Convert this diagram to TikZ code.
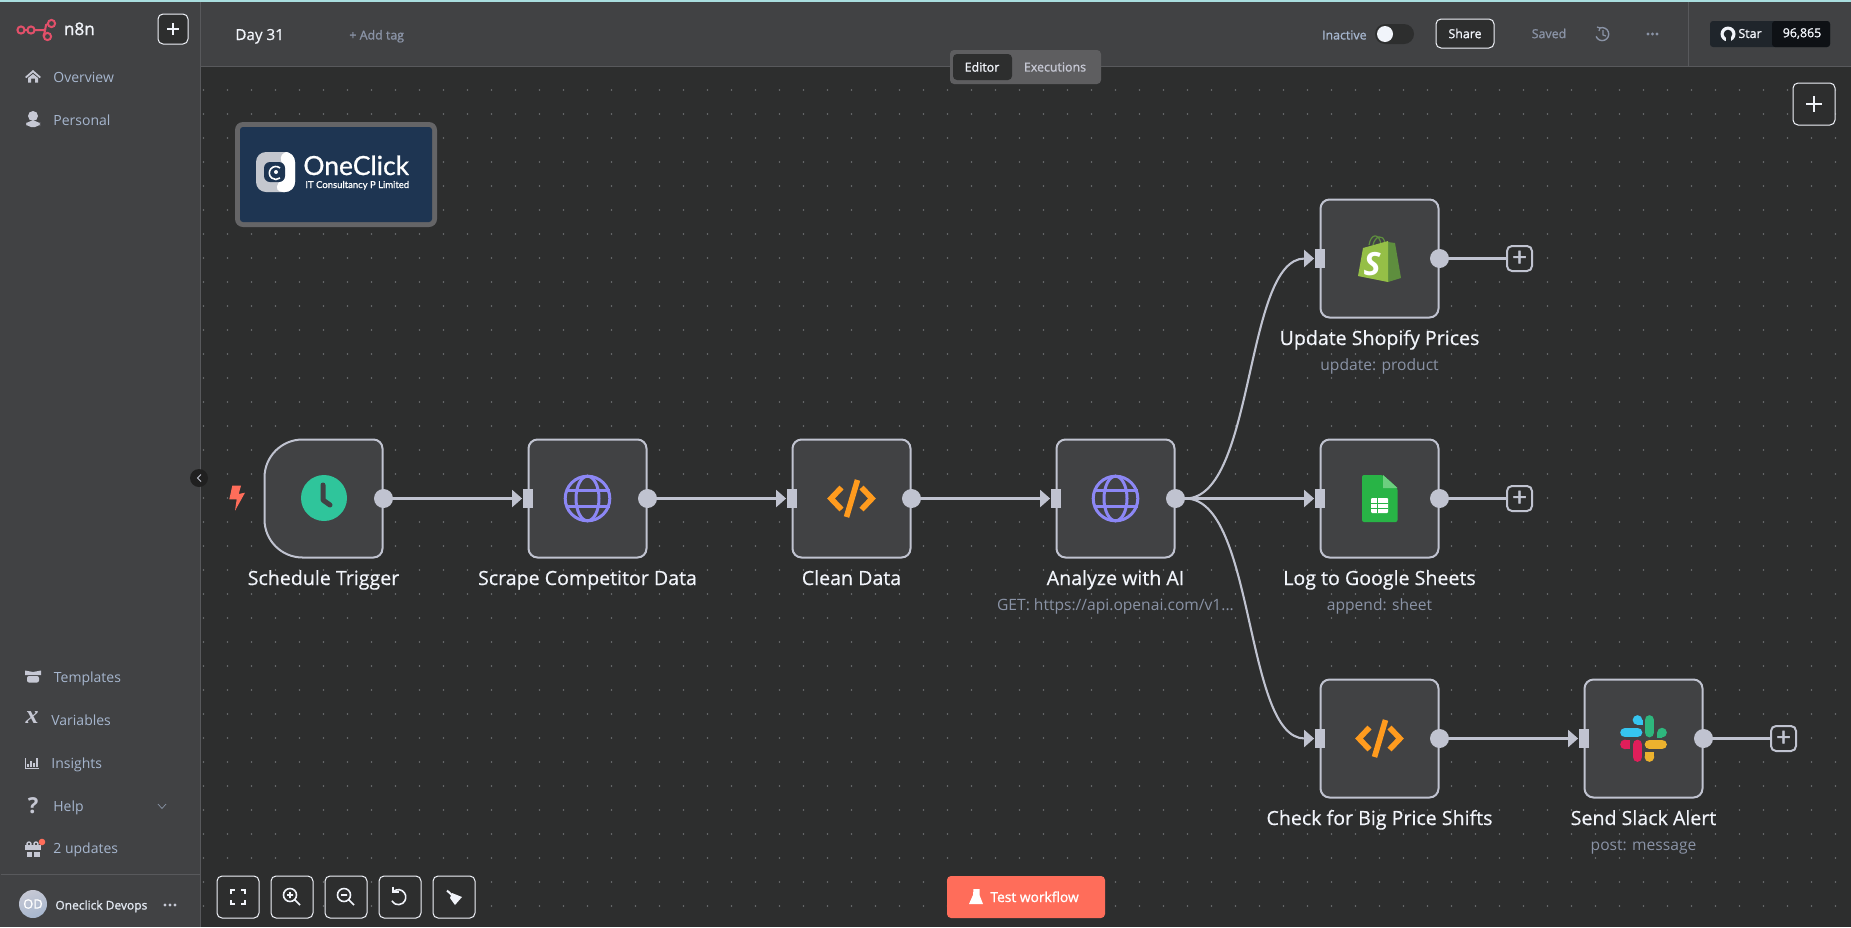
\documentclass[tikz,border=0pt]{standalone}
\usepackage{fontspec}
\setmainfont{Open Sans}
\newfontfamily\logofont[FakeBold=0.8]{Lato}
\newfontfamily\iconserif{Liberation Serif}
\newfontfamily\semifont[FakeBold=1.2]{Open Sans}
\newfontfamily\medfont[FakeBold=0.5]{Open Sans}
\usetikzlibrary{arrows.meta}
\definecolor{canvasbg}{HTML}{2D2E2E}
\definecolor{panelbg}{HTML}{414244}
\definecolor{panelline}{HTML}{58595C}
\definecolor{griddot}{HTML}{6E7073}
\definecolor{edgecol}{HTML}{C0C3D0}
\definecolor{menutext}{HTML}{A6B6CE}
\definecolor{titletext}{HTML}{F1F4FA}
\definecolor{subtext}{HTML}{8A93A6}
\definecolor{iconcol}{HTML}{C6C8D4}
\definecolor{coral}{HTML}{FF6D5A}
\definecolor{codeorange}{HTML}{FF9B1E}
\definecolor{globepurple}{HTML}{8C87F5}
\definecolor{brandred}{HTML}{E2506A}
\definecolor{topteal}{HTML}{A9DEDF}
\definecolor{clockteal}{HTML}{2FC59B}
\definecolor{logoblue}{HTML}{1E3552}
\definecolor{logoframe}{HTML}{656567}
\definecolor{logogray}{HTML}{C4C7CE}
\definecolor{shopdark}{HTML}{5E8E3E}
\definecolor{shoplight}{HTML}{95BF47}
\definecolor{sheetgreen}{HTML}{28B446}
\definecolor{sheetfold}{HTML}{6CCF7F}
\definecolor{ghleft}{HTML}{1F252B}
\definecolor{ghright}{HTML}{0E1115}
\tikzset{
    wfnode/.style={draw=edgecol, fill=panelbg, line width=1pt, rounded corners=4.5pt, minimum size=59pt, inner sep=0pt},
    outhandle/.style={circle, fill=edgecol, minimum size=9.5pt, inner sep=0pt},
    inhandle/.style={rectangle, fill=edgecol, minimum width=5pt, minimum height=9.5pt, inner sep=0pt},
    conn/.style={draw=edgecol, line width=1.05pt, -{Triangle[length=5pt,width=8.5pt]}},
    stub/.style={draw=edgecol, line width=1.05pt},
    plusbox/.style={draw=edgecol, fill=canvasbg, line width=1pt, rounded corners=2.5pt, minimum size=12.5pt, inner sep=0pt, text=edgecol, font=\semifont\fontsize{13}{13}\selectfont},
    toolbtn/.style={draw=titletext, fill=canvasbg, line width=0.5pt, rounded corners=2.5pt, minimum size=21pt, inner sep=0pt},
    titletxt/.style={anchor=base, text=titletext, font=\medfont\fontsize{9.8}{11}\selectfont, inner sep=0pt},
    subtxt/.style={anchor=base, text=subtext, font=\fontsize{7.8}{9}\selectfont, inner sep=0pt},
    menutxt/.style={anchor=base west, text=menutext, font=\fontsize{7}{9}\selectfont, inner sep=0pt},
    boldtxt/.style={text=titletext, font=\semifont\fontsize{6.2}{8}\selectfont, inner sep=0pt},
    iconfill/.style={fill=iconcol},
    whiteline/.style={draw=titletext, line width=1pt},
    globeicon/.pic={
        \draw[globepurple, line width=1.5pt] (0,0) circle[radius=22.3];
        \draw[globepurple, line width=1.5pt] (0,0) ellipse[x radius=11.5, y radius=22.3];
        \draw[globepurple, line width=1.5pt] (-22,-8) -- (22,-8);
        \draw[globepurple, line width=1.5pt] (-22,8) -- (22,8);
    },
    codeicon/.pic={
        \draw[codeorange, line width=2.8pt] (-10,-11) -- (-20.5,0) -- (-10,11);
        \draw[codeorange, line width=2.8pt] (10,-11) -- (20.5,0) -- (10,11);
        \draw[codeorange, line width=2.8pt] (6,-18.5) -- (-5,18.5);
    },
}
\begin{document}
\begin{tikzpicture}[x=0.5pt, y=-0.5pt]
    \useasboundingbox (0,0) rectangle (1851,927);
    \fill[canvasbg] (0,0) rectangle (1851,927);
    \foreach \dotx in {203.5,227.5,...,1851} {
        \foreach \doty in {90,114,...,927} {
            \fill[griddot] (\dotx,\doty) circle[radius=0.9];
        }
    }
    \fill[panelbg] (0,0) rectangle (200,927);
    \fill[panelbg] (200,0) rectangle (1851,66);
    \fill[panelline] (200,0) rectangle (201,927);
    \fill[panelline] (200,65.5) rectangle (1851,66.5);
    \fill[panelline] (1,873.5) rectangle (200,874.5);
    \fill[panelline] (1687.5,2) rectangle (1688.5,66);
    \fill[topteal] (0,0) rectangle (1851,2);

    \draw[brandred, line width=1pt] (17,30) -- (44,30) (44,30) .. controls (47,30) and (44,24) .. (48,24) (44,30) .. controls (47,30) and (42,36.5) .. (44,36.5);
    \foreach \rx/\ry in {21/30,31/30,51.5/23.5,47.5/36.5} {
        \draw[brandred, fill=panelbg, line width=1pt] (\rx,\ry) circle[radius=3.6];
    }
    \node[boldtxt, anchor=base west, font=\semifont\fontsize{8.6}{10}\selectfont] (brand) at (63.5,35) {n8n};
    \node[toolbtn, minimum size=15pt] (newbtn) at (173,29) {};
    \draw[whiteline] (167,29) -- (179,29) (173,23) -- (173,35);

    \node[menutxt] (overview) at (53,82) {Overview};
    \node[menutxt] (personal) at (53,125) {Personal};
    \node[menutxt] (templates) at (53.5,682) {Templates};
    \node[menutxt] (variables) at (51,725) {Variables};
    \node[menutxt] (insights) at (51,768) {Insights};
    \node[menutxt] (help) at (53,811) {Help};
    \node[menutxt] (updates) at (53,853) {2 updates};
    \fill[iconfill] (25,77) -- (33,70) -- (41,77) -- (39.5,78) -- (33,72.5) -- (26.5,78) -- cycle;
    \fill[iconfill] (28,78) -- (33,74) -- (38,78) -- (38,82.5) -- (35,82.5) -- (35,78.5) -- (31,78.5) -- (31,82.5) -- (28,82.5) -- cycle;
    \fill[iconfill] (33,116) circle[radius=5];
    \fill[iconfill, rounded corners=2.5pt] (26,127) -- (26,121) -- (40,121) -- (40,127) -- cycle;
    \fill[iconfill] (25,670.5) -- (33,672) -- (41,670.5) -- (41,675) -- (25,675) -- cycle;
    \fill[iconfill, rounded corners=1pt] (27,676) rectangle (39,682.5);
    \node[text=iconcol, inner sep=0pt, font=\iconserif\bfseries\itshape\fontsize{13}{13}\selectfont] (varicon) at (32,718) {x};
    \draw[iconcol, line width=0.5pt] (25.5,758) -- (25.5,768.5) -- (39,768.5);
    \foreach \bx/\by in {28/764,31/761,34/763,37/758} {
        \draw[iconcol, line width=0.6pt] (\bx,766.5) -- (\bx,\by);
    }
    \node[text=iconcol, inner sep=0pt, font=\bfseries\fontsize{11}{11}\selectfont] (helpicon) at (33,806) {?};
    \draw[menutext!70!panelbg, line width=0.35pt] (158,804) -- (162,808.5) -- (166,804);
    \fill[iconfill] (25,845) rectangle (41,850);
    \fill[iconfill] (26.5,851.5) rectangle (32,857);
    \fill[iconfill] (34,851.5) rectangle (39.5,857);
    \draw[iconcol, line width=0.7pt] (29,844) circle[radius=2] (36,844) circle[radius=2];
    \fill[coral] (42,842) circle[radius=3.3];
    \shade[top color=iconcol, bottom color=menutext, shading angle=20] (33,904) circle[radius=14];
    \node[text=white, inner sep=0pt, font=\semifont\fontsize{6.5}{8}\selectfont] (initials) at (33,904) {OD};
    \node[boldtxt, anchor=base west, text=titletext!80!menutext, font=\semifont\fontsize{6}{8}\selectfont] (username) at (55,909.5) {Oneclick Devops};
    \foreach \dx in {165,170,175} {
        \fill[iconcol] (\dx,905) circle[radius=1.6];
    }

    \node[anchor=base west, inner sep=0pt, text=titletext, font=\medfont\fontsize{7.6}{10}\selectfont] (wfname) at (235,40) {Day 31};
    \node[anchor=base west, inner sep=0pt, text=subtext, font=\semifont\fontsize{6.2}{8}\selectfont] (addtag) at (349,39.5) {+ Add tag};
    \fill[panelbg!85!white, rounded corners=2pt] (950,50) rectangle (1101,84);
    \fill[canvasbg, rounded corners=2pt] (953,54) rectangle (1012,80);
    \node[boldtxt] (editor) at (982,67) {Editor};
    \node[boldtxt, text=iconcol] (executions) at (1055,67) {Executions};
    \node[boldtxt, anchor=east, text=menutext] (inactive) at (1367,35) {Inactive};
    \fill[canvasbg, rounded corners=5pt] (1375,24) rectangle (1414,44);
    \fill[titletext] (1385,34) circle[radius=8];
    \node[toolbtn, minimum width=29pt, minimum height=14.5pt] (sharebtn) at (1465,33.5) {};
    \node[boldtxt] (share) at (1465,33.5) {Share};
    \node[boldtxt, text=subtext] (saved) at (1549,33.5) {Saved};
    \draw[subtext, line width=0.7pt] (1600,28) arc[start angle=-110, end angle=160, radius=6.5];
    \draw[subtext, line width=0.6pt] (1597,27) -- (1600,28) -- (1599,31) (1603,30) -- (1603,35) -- (1606,36);
    \foreach \dx in {1648,1652.5,1657} {
        \fill[subtext] (\dx,34) circle[radius=1.7];
    }
    \fill[ghleft, rounded corners=1.5pt] (1710,21) rectangle (1830,47);
    \fill[ghright, rounded corners=1.5pt] (1772,21) rectangle (1830,47);
    \fill[titletext] (1728,34) circle[radius=7.5];
    \fill[ghleft] (1728,34) circle[radius=4.3];
    \fill[ghleft] (1725.5,37) rectangle (1730.5,42);
    \node[boldtxt] (star) at (1750,33.5) {Star};
    \node[boldtxt] (starcount) at (1802,33.5) {96,865};
    \node[toolbtn] (addnode) at (1814,104) {};
    \draw[whiteline, line width=1.2pt] (1806,104) -- (1822,104) (1814,96) -- (1814,112);
    \fill[black!30!canvasbg] (199,478) circle[radius=9];
    \draw[iconcol, line width=0.5pt] (201,474.5) -- (197.5,478) -- (201,481.5);

    \fill[logoframe, rounded corners=4pt] (235,122) rectangle (437,227);
    \fill[logoblue, rounded corners=1.5pt] (240,127) rectangle (432,222);
    \fill[logogray, rounded corners=5pt] (256,152) rectangle (295,192);
    \fill[white, rounded corners=5pt] (278,152) -- (295,152) -- (295,192) -- (273,192) -- (285,172) -- cycle;
    \fill[logoblue, rounded corners=3pt] (264,162) rectangle (285,182);
    \draw[white, line width=0.8pt] (280,168) arc[start angle=-50, end angle=-310, radius=6.5];
    \fill[white] (276,172) circle[radius=2];
    \node[anchor=base west, inner sep=0pt, text=white, font=\logofont\fontsize{13.2}{16}\selectfont] (logoname) at (303,175) {OneClick};
    \node[anchor=base west, inner sep=0pt, text=white, font=\logofont\fontsize{4.75}{6}\selectfont] (logotag) at (305,188) {IT Consultancy P Limited};

    \draw[draw=edgecol, fill=panelbg, line width=1pt] (302.5,439.5) arc[start angle=-90, end angle=-180, radius=38] -- (264.5,519.5) arc[start angle=180, end angle=90, radius=38] -- (373.5,557.5) arc[start angle=90, end angle=0, radius=9] -- (382.5,448.5) arc[start angle=0, end angle=-90, radius=9] -- cycle;
    \node[wfnode, draw=none, fill=none] (schedule) at (323.5,498.5) {};
    \node[titletxt] (scheduletitle) at (323.5,585) {Schedule Trigger};
    \foreach \name/\xc/\yc/\title in {
        scrape/587.5/498.5/Scrape Competitor Data,
        clean/851.5/498.5/Clean Data,
        analyze/1115.5/498.5/Analyze with AI,
        shopify/1379.5/258.5/Update Shopify Prices,
        sheets/1379.5/498.5/Log to Google Sheets,
        check/1379.5/738.5/Check for Big Price Shifts,
        slack/1643.5/738.5/Send Slack Alert} {
        \node[wfnode] (\name) at (\xc,\yc) {};
        \node[inhandle] (\name in) at (\name.west) {};
        \node[titletxt] (\name title) at (\xc,\yc+86.5) {\title};
    }
    \foreach \name in {schedule,scrape,clean,analyze,shopify,sheets,check,slack} {
        \node[outhandle] (\name out) at (\name.east) {};
    }
    \node[subtxt] (analyzesub) at (1115.5,610.5) {GET: https://api.openai.com/v1...};
    \node[subtxt] (shopifysub) at (1379.5,370.5) {update: product};
    \node[subtxt] (sheetssub) at (1379.5,610.5) {append: sheet};
    \node[subtxt] (slacksub) at (1643.5,850.5) {post: message};

    \draw[conn] (scheduleout.east) -- (scrapein.west);
    \draw[conn] (scrapeout.east) -- (cleanin.west);
    \draw[conn] (cleanout.east) -- (analyzein.west);
    \draw[conn] (analyzeout.east) -- (sheetsin.west);
    \draw[conn] (analyzeout.east) .. controls +(70,0) and +(-70,0) .. (shopifyin.west);
    \draw[conn] (analyzeout.east) .. controls +(70,0) and +(-70,0) .. (checkin.west);
    \draw[conn] (checkout.east) -- (slackin.west);
    \node[plusbox] (shopifyplus) at (1519.5,258.5) {+};
    \node[plusbox] (sheetsplus) at (1519.5,498.5) {+};
    \node[plusbox] (slackplus) at (1783.5,738.5) {+};
    \draw[stub] (shopifyout.east) -- (shopifyplus.west);
    \draw[stub] (sheetsout.east) -- (sheetsplus.west);
    \draw[stub] (slackout.east) -- (slackplus.west);

    \fill[coral] (232.3,485.7) -- (241,485.7) -- (238.7,494) -- (245,492.7) -- (235,510.7) -- (236.7,499.3) -- (229.3,499.3) -- cycle;
    \fill[clockteal] (324,498) circle[radius=23];
    \draw[panelbg, line width=2.5pt, line cap=round, line join=round] (323,485) -- (323,500) -- (330,505);
    \pic at (587.5,498.5) {globeicon};
    \pic at (851.5,498.5) {codeicon};
    \pic at (1115.5,498.5) {globeicon};
    \pic at (1379.5,738.5) {codeicon};

    \draw[shopdark, line width=0.6pt] (1369,245) .. controls (1371,233) and (1379,233) .. (1381,244) (1373,245) .. controls (1375,236) and (1383,233) .. (1385,243);
    \fill[shopdark] (1388,242) -- (1395,243) -- (1401,278) -- (1388,282) -- cycle;
    \fill[shoplight] (1358,276) -- (1363,248) -- (1388,241) -- (1388,282) -- cycle;
    \node[text=white, inner sep=0pt, font=\bfseries\itshape\fontsize{16}{16}\selectfont] (shopifyS) at (1372,264) {S};

    \fill[sheetgreen, rounded corners=1pt] (1362,475) -- (1383,475) -- (1397.5,488) -- (1397.5,522) -- (1362,522) -- cycle;
    \fill[sheetfold] (1383,475) -- (1397.5,488) -- (1383,488) -- cycle;
    \fill[white, rounded corners=0.5pt] (1371,498) rectangle (1388,513);
    \draw[sheetgreen, line width=0.5pt] (1371,503) -- (1388,503) (1371,508) -- (1388,508) (1377,498) -- (1377,513);

    \foreach \px/\py/\qx/\qy/\col in {
        -18.5/-5.9/-6/-5.9/36C5F0,
        5.9/-18.5/5.9/-6/2EB67D,
        6/5.9/18.5/5.9/ECB22E,
        -5.9/6/-5.9/18.5/E01E5A} {
        \definecolor{slackcol}{HTML}{\col}
        \draw[slackcol, line width=4.85pt, line cap=round] (1643.5+\px,738.5+\py) -- (1643.5+\qx,738.5+\qy);
    }
    \foreach \cx/\cy/\ax/\ay/\bx/\by/\col in {
        -6/-18.5/-5.9/-18.5/-1/-13.7/36C5F0,
        18.5/-5.9/13.7/-5.9/18.5/-1/2EB67D,
        5.9/18.5/1/13.7/10.7/18.5/ECB22E,
        -18.5/5.9/-18.5/1/-13.7/10.7/E01E5A} {
        \definecolor{slackcol}{HTML}{\col}
        \fill[slackcol] (1643.5+\cx,738.5+\cy) circle[radius=4.85];
        \fill[slackcol] (1643.5+\ax,738.5+\ay) rectangle (1643.5+\bx,738.5+\by);
    }

    \foreach \name/\xc in {fitbtn/238,zoominbtn/292,zoomoutbtn/346,resetbtn/400,tidybtn/454} {
        \node[toolbtn] (\name) at (\xc,897) {};
    }
    \draw[whiteline] (231,894) -- (231,890) -- (235,890) (241,890) -- (245,890) -- (245,894) (245,900) -- (245,904) -- (241,904) (235,904) -- (231,904) -- (231,900);
    \draw[whiteline, line width=0.8pt] (290,895) circle[radius=6.5] (295,900) -- (300,905) (287,895) -- (293,895) (290,892) -- (290,898);
    \draw[whiteline, line width=0.8pt] (344,895) circle[radius=6.5] (349,900) -- (354,905) (341,895) -- (347,895);
    \draw[whiteline, line width=0.8pt] (394,891) arc[start angle=-125, end angle=150, radius=7.5];
    \draw[whiteline, line width=0.8pt] (393,886.5) -- (393,892) -- (398.5,892);
    \draw[whiteline] (447,890.5) -- (453,896);
    \fill[titletext] (452,893) -- (462,897) -- (455,905) -- (450,898) -- cycle;

    \fill[coral, rounded corners=2pt] (947,876) rectangle (1105,918);
    \fill[white] (973.5,889) -- (979.5,889) -- (979.5,895) -- (983,904) -- (969,904) -- (973,895) -- cycle;
    \node[anchor=base west, inner sep=0pt, text=white, font=\semifont\fontsize{6.9}{9}\selectfont] (testwf) at (990,902) {Test workflow};
\end{tikzpicture}
\end{document}
